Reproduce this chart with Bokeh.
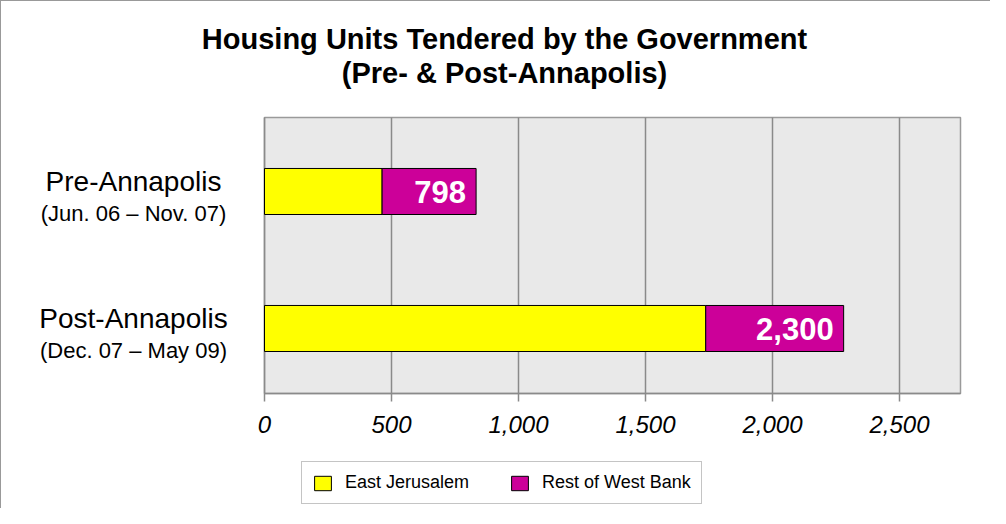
from bokeh.plotting import figure
from bokeh.models import (Range1d, ColumnDataSource, Label, LabelSet, Legend,
                          LegendItem, FixedTicker, NumeralTickFormatter)
from bokeh.core.properties import value
from bokeh.embed import file_html
from bokeh.resources import INLINE

# ---- data ----
categories = ["Pre-Annapolis", "Post-Annapolis"]
periods = ["(Jun. 06 \u2013 Nov. 07)", "(Dec. 07 \u2013 May 09)"]
east_jerusalem = [463, 1737]
rest_of_west_bank = [370, 543]
total_labels = ["798", "2,300"]
x_ticks = [0, 500, 1000, 1500, 2000, 2500]
x_max = 2740
series_names = ["East Jerusalem", "Rest of West Bank"]
series_colors = ["#ffff00", "#cc0099"]
title_lines = ["Housing Units Tendered by the Government", "(Pre- & Post-Annapolis)"]

FONT = "Liberation Sans"

# ---- layout (pixels, canvas coordinates) ----
W, H = 990, 508
PLOT_LEFT_PX, PLOT_RIGHT_PX = 263, 959
ppu_x = (PLOT_RIGHT_PX - PLOT_LEFT_PX) / x_max
x_start = -PLOT_LEFT_PX / ppu_x
x_end = (W - PLOT_LEFT_PX) / ppu_x

# categories one unit apart
ppu_y = 137.0
y_start = -1.3212
plot_bottom = -0.4745
plot_top = 1.54
y_end = y_start + H / ppu_y

ypos = [len(categories) - 1 - i for i in range(len(categories))]
ends = [a + b for a, b in zip(east_jerusalem, rest_of_west_bank)]

src = ColumnDataSource(dict(
    y=ypos, cat=categories, period=periods,
    ej=east_jerusalem, wb_end=ends, label=total_labels,
))

p = figure(width=W, height=H,
           x_range=Range1d(x_start, x_end), y_range=Range1d(y_start, y_end),
           output_backend="svg", toolbar_location=None,
           y_axis_location=None,
           min_border_left=0, min_border_right=0,
           min_border_top=0, min_border_bottom=0)
p.title.visible = False
p.styles = {"border-left": "1px solid #999999", "border-top": "1px solid #999999"}
p.background_fill_color = "white"
p.border_fill_color = "white"
p.outline_line_color = None

# plot area background
area = p.quad(left=[0], right=[x_max], bottom=[plot_bottom], top=[plot_top],
              fill_color="#e9e9e9", line_color="#9a9a9a", line_width=1.5)
area.level = "image"

# grid limited to plot area
p.xgrid.ticker = FixedTicker(ticks=x_ticks)
p.xgrid.grid_line_color = "#8a8a8a"
p.xgrid.grid_line_width = 1.5
p.xgrid.cross_bounds = (plot_bottom, plot_top)
p.ygrid.visible = False

# x axis fixed at the bottom of the plot area
ax = p.xaxis[0]
ax.fixed_location = plot_bottom
ax.ticker = FixedTicker(ticks=x_ticks)
ax.formatter = NumeralTickFormatter(format="0,0")
ax.bounds = (0, x_max)
ax.axis_line_color = "#8a8a8a"
ax.axis_line_width = 1.5
ax.major_tick_line_color = "#8a8a8a"
ax.major_tick_line_width = 1.5
ax.major_tick_out = 8
ax.major_tick_in = 0
ax.minor_tick_line_color = None
ax.major_label_text_font = FONT
ax.major_label_text_font_style = "italic"
ax.major_label_text_font_size = "24px"
ax.major_label_text_color = "black"
ax.major_label_standoff = 14

# bars
bar_h = 0.336
r1 = p.hbar(y="y", left=0, right="ej", height=bar_h, source=src,
            fill_color=series_colors[0], line_color="black", line_width=1)
r2 = p.hbar(y="y", left="ej", right="wb_end", height=bar_h, source=src,
            fill_color=series_colors[1], line_color="black", line_width=1)

# value labels inside bar ends
p.add_layout(LabelSet(x="wb_end", y="y", text="label", source=src,
                      x_offset=-10, y_offset=-1, text_align="right",
                      text_baseline="middle", text_color="white",
                      text_font=value(FONT), text_font_style="bold",
                      text_font_size="31px"))

# category labels (two lines), centred left of the plot area
p.add_layout(LabelSet(x=132, x_units="screen", y="y", text="cat", source=src,
                      y_offset=10, text_align="center",
                      text_baseline="middle", text_color="black",
                      text_font=value(FONT), text_font_size="28px"))
p.add_layout(LabelSet(x=132, x_units="screen", y="y", text="period", source=src,
                      y_offset=-22, text_align="center",
                      text_baseline="middle", text_color="black",
                      text_font=value(FONT), text_font_size="22px"))

# title (screen units measured from the frame's bottom-left)
for txt, yy in zip(title_lines, [471, 437]):
    p.add_layout(Label(x=503, y=yy, x_units="screen", y_units="screen",
                       text=txt, text_align="center", text_baseline="middle",
                       text_font=FONT, text_font_style="bold",
                       text_font_size="29px", text_color="black"))

# legend
legend = Legend(items=[LegendItem(label=series_names[0], renderers=[r1]),
                       LegendItem(label=series_names[1], renderers=[r2])],
                orientation="horizontal", location=(300, 5))
legend.border_line_color = "#8a8a8a"
legend.border_line_width = 1
legend.background_fill_color = "white"
legend.background_fill_alpha = 1
legend.padding = 10
legend.spacing = 40
legend.label_standoff = 12
legend.glyph_width = 21
legend.glyph_height = 18
legend.label_height = 18
legend.margin = 0
legend.label_text_font = FONT
legend.label_text_font_size = "18px"
legend.label_text_color = "black"
p.add_layout(legend)

open("out.html", "w").write(file_html(p, INLINE))
